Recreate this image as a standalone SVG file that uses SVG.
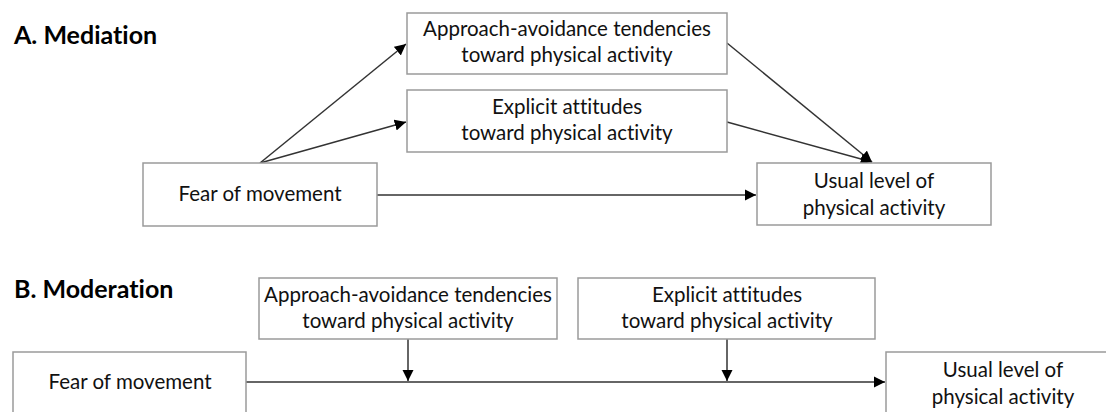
<svg xmlns="http://www.w3.org/2000/svg" width="1106" height="412" viewBox="0 0 1106 412">
<style>
.box{fill:#fff;stroke:#9a9a9a;stroke-width:1.5}
.t{font-family:Lato,"Open Sans","Liberation Sans",sans-serif;font-size:20.5px;fill:#111;text-anchor:middle;font-variant-ligatures:none}
.h{font-family:Lato,"Open Sans","Liberation Sans",sans-serif;font-size:25px;font-weight:bold;fill:#000;font-variant-ligatures:none}
.c{fill:none;stroke:#333;stroke-width:1.5;marker-end:url(#ah)}
</style>
<defs>
<marker id="ah" viewBox="0 0 10 10" refX="10" refY="5" markerWidth="7.5" markerHeight="7.5" markerUnits="strokeWidth" orient="auto">
<path d="M0,0 L10,5 L0,10 Z" fill="#000"/>
</marker>
</defs>
<rect width="1106" height="412" fill="#fff"/>
<text class="h" x="14" y="44">A. Mediation</text>
<text class="h" x="14" y="298">B. Moderation</text>

<g id="connectors">
<line class="c" x1="260" y1="163" x2="406" y2="44"/>
<line class="c" x1="260" y1="163" x2="406" y2="122"/>
<line class="c" x1="727" y1="43" x2="872" y2="162"/>
<line class="c" x1="727" y1="122" x2="872" y2="162"/>
<line class="c" x1="377" y1="195" x2="756" y2="195"/>
<line class="c" x1="246" y1="382" x2="885" y2="382"/>
<line class="c" x1="408" y1="339" x2="408" y2="381"/>
<line class="c" x1="727" y1="339" x2="727" y2="381"/>
</g>

<g id="a-approach">
<rect class="box" x="407" y="13" width="320" height="61"/>
<text class="t" x="567" y="36">Approach-avoidance tendencies</text>
<text class="t" x="567" y="62">toward physical activity</text>
</g>
<g id="a-explicit">
<rect class="box" x="407" y="90" width="320" height="62"/>
<text class="t" x="567" y="114">Explicit attitudes</text>
<text class="t" x="567" y="140">toward physical activity</text>
</g>
<g id="a-fear">
<rect class="box" x="143" y="163" width="234" height="63"/>
<text class="t" x="260" y="201">Fear of movement</text>
</g>
<g id="a-usual">
<rect class="box" x="757" y="163" width="234" height="62"/>
<text class="t" x="874" y="188">Usual level of</text>
<text class="t" x="874" y="215">physical activity</text>
</g>

<g id="b-approach">
<rect class="box" x="259" y="278" width="298" height="61"/>
<text class="t" x="408" y="302">Approach-avoidance tendencies</text>
<text class="t" x="408" y="328">toward physical activity</text>
</g>
<g id="b-explicit">
<rect class="box" x="578" y="278" width="297" height="61"/>
<text class="t" x="727" y="302">Explicit attitudes</text>
<text class="t" x="727" y="328">toward physical activity</text>
</g>
<g id="b-fear">
<rect class="box" x="13" y="352" width="233" height="70"/>
<text class="t" x="130" y="389">Fear of movement</text>
</g>
<g id="b-usual">
<rect class="box" x="886" y="352" width="240" height="70"/>
<text class="t" x="1003" y="377">Usual level of</text>
<text class="t" x="1003" y="404">physical activity</text>
</g>
</svg>
